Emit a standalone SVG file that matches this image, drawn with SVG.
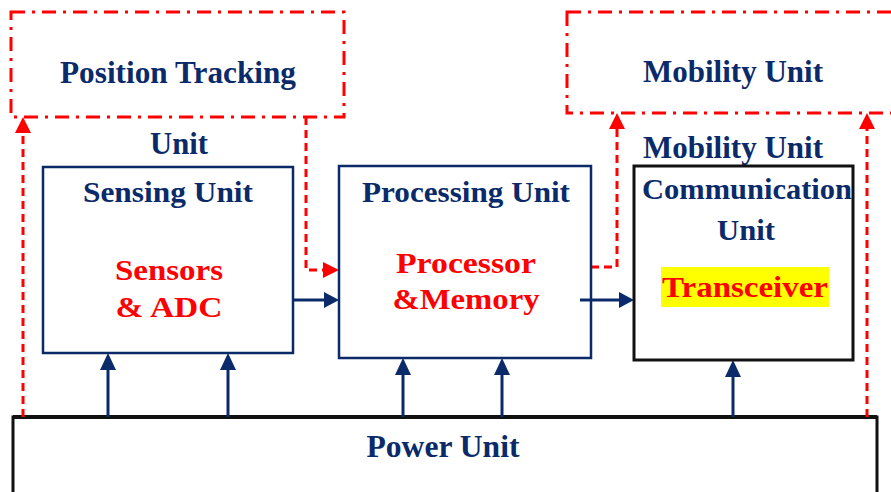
<svg xmlns="http://www.w3.org/2000/svg" width="891" height="492" viewBox="0 0 891 492">
<defs>
<style>
.t{font-family:"Liberation Serif","Times New Roman",serif;font-weight:bold;text-anchor:middle}
.nv{fill:#0a2a6a}
.rd{fill:#ff0000}
.dashbox{fill:none;stroke:#ff0000;stroke-width:3;stroke-dasharray:14 7 3 7}
.rdash{fill:none;stroke:#ff0000;stroke-width:3;stroke-dasharray:8 5}
.nbox{fill:none;stroke:#0a2a6a;stroke-width:2.5}
.kbox{fill:none;stroke:#111;stroke-width:3}
.nline{fill:none;stroke:#0a2a6a;stroke-width:3}
</style>
</defs>
<rect width="891" height="492" fill="#fff"/>

<g id="position-tracking">
<rect class="dashbox" x="11" y="12" width="333" height="105"/>
<text class="t nv" x="178" y="83" font-size="31" textLength="236" lengthAdjust="spacingAndGlyphs">Position Tracking</text>
<text class="t nv" x="179" y="154" font-size="31" textLength="58" lengthAdjust="spacingAndGlyphs">Unit</text>
</g>

<g id="mobility">
<rect class="dashbox" x="567" y="12" width="340" height="101"/>
<text class="t nv" x="733" y="82" font-size="31" textLength="180" lengthAdjust="spacingAndGlyphs">Mobility Unit</text>
<text class="t nv" x="733" y="158" font-size="31" textLength="180" lengthAdjust="spacingAndGlyphs">Mobility Unit</text>
</g>

<g id="power">
<rect class="kbox" x="13" y="417" width="864" height="90"/>
<line x1="13" y1="417" x2="877" y2="417" stroke="#111" stroke-width="4"/>
<text class="t nv" x="443" y="457" font-size="31" textLength="153" lengthAdjust="spacingAndGlyphs">Power Unit</text>
</g>

<g id="connectors">
<path class="rdash" d="M23,417 V131"/>
<polygon points="23,117 15,133 31,133" fill="#ff0000"/>
<path class="rdash" d="M306,117 V270 H326"/>
<polygon points="339,270 323,262 323,278" fill="#ff0000"/>
<path class="rdash" d="M591,267 H617 V127"/>
<polygon points="617,113 609,129 625,129" fill="#ff0000"/>
<path class="rdash" d="M867,417 V127"/>
<polygon points="867,113 859,129 875,129" fill="#ff0000"/>
<path class="nline" d="M293,300 H326"/>
<polygon points="339,300 324,292 324,308" fill="#0a2a6a"/>
<path class="nline" d="M580,300 H620"/>
<polygon points="634,300 619,292 619,308" fill="#0a2a6a"/>
<path class="nline" d="M108,417 V368"/>
<polygon points="108,353 100,370 116,370" fill="#0a2a6a"/>
<path class="nline" d="M228,417 V368"/>
<polygon points="228,353 220,370 236,370" fill="#0a2a6a"/>
<path class="nline" d="M403,417 V372"/>
<polygon points="403,358 395,375 411,375" fill="#0a2a6a"/>
<path class="nline" d="M502,417 V372"/>
<polygon points="502,358 494,375 510,375" fill="#0a2a6a"/>
<path class="nline" d="M733,417 V374"/>
<polygon points="733,360 725,377 741,377" fill="#0a2a6a"/>
</g>

<g id="sensing">
<rect class="nbox" x="43" y="167" width="250" height="186"/>
<text class="t nv" x="168" y="202" font-size="30" textLength="170" lengthAdjust="spacingAndGlyphs">Sensing Unit</text>
<text class="t rd" x="169" y="280" font-size="30" textLength="108" lengthAdjust="spacingAndGlyphs">Sensors</text>
<text class="t rd" x="169" y="317" font-size="30" textLength="107" lengthAdjust="spacingAndGlyphs">&amp; ADC</text>
</g>

<g id="processing">
<rect class="nbox" x="339" y="166" width="252" height="192"/>
<text class="t nv" x="466" y="202" font-size="30" textLength="208" lengthAdjust="spacingAndGlyphs">Processing Unit</text>
<text class="t rd" x="466" y="273" font-size="30" textLength="140" lengthAdjust="spacingAndGlyphs">Processor</text>
<text class="t rd" x="466" y="309" font-size="30" textLength="147" lengthAdjust="spacingAndGlyphs">&amp;Memory</text>
</g>

<g id="communication">
<rect class="kbox" x="634" y="166" width="219" height="194"/>
<text class="t nv" x="747" y="199" font-size="30" textLength="210" lengthAdjust="spacingAndGlyphs">Communication</text>
<text class="t nv" x="746" y="240" font-size="30" textLength="58" lengthAdjust="spacingAndGlyphs">Unit</text>
<rect x="661" y="267" width="168" height="40" fill="#ffff00"/>
<text class="t rd" x="745" y="297" font-size="30" textLength="166" lengthAdjust="spacingAndGlyphs">Transceiver</text>
</g>
</svg>
